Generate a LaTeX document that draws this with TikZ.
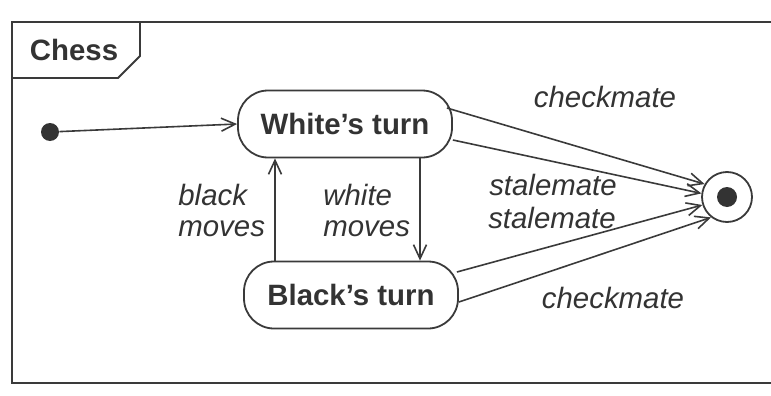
\documentclass[tikz,border=0pt]{standalone}
\usepackage{fontspec}
\setmainfont{Liberation Sans}
\setsansfont{Liberation Sans}
\usepackage{xcolor}
\usepackage{tikz}
\usetikzlibrary{
  arrows.meta,
  positioning,
  calc
}
\definecolor{chInk}{HTML}{333333}
\definecolor{chLine}{HTML}{3A3A3A}
\tikzset{
  chstate/.style={
    draw=chLine, line width=0.9pt, rounded corners=15pt, minimum width=107pt,
    minimum height=33.5pt, font=\fontsize{14.7}{16}\selectfont\bfseries,
    text=chInk, align=center, fill=white
  },
  initstate/.style={circle, fill=chInk, inner sep=0pt, minimum size=9pt},
  finalring/.style={circle, draw=chLine, line width=0.9pt, inner sep=0pt, minimum size=25pt, fill=white},
  finaldot/.style={circle, fill=chInk, inner sep=0pt, minimum size=10pt},
  trans/.style={-{Straight Barb[length=7pt,width=6.5pt]}, line width=0.8pt, chLine},
  translabel/.style={font=\fontsize{14.7}{15.5}\selectfont\itshape, text=chInk, align=left, inner sep=1pt},
  frameline/.style={draw=chLine, line width=0.9pt},
  tabname/.style={font=\fontsize{14.7}{16}\selectfont\bfseries, text=chInk}
}

\begin{document}
\begin{tikzpicture}[x=0.5pt, y=-0.5pt]
  \useasboundingbox (0,0) rectangle (771,396);
  % frame and name tab
  \draw[frameline] (790,22) -- (12,22) -- (12,383) -- (790,383);
  \draw[frameline] (12,78) -- (118,78) -- (140,56) -- (140,22);
  \node[tabname] (tab) at (74,50) {Chess};
  % states
  \node[initstate] (init) at (50,132) {};
  \node[chstate] (white) at (345,124) {White’s turn};
  \node[chstate] (black) at (351,295) {Black’s turn};
  \node[finalring] (final) at (727,197) {};
  \node[finaldot] at (final) {};
  % transitions
  \draw[trans] (init) -- (white.west);
  \draw[trans] ([xshift=-38pt]black.north) -- ([xshift=-38pt]black.north |- white.south);
  \draw[trans] ([xshift=37.5pt]white.south) -- ([xshift=37.5pt]white.south |- black.north);
  \draw[trans] ([xshift=-3pt,yshift=8pt]white.east) -- (final.150);
  \draw[trans] ([yshift=-8pt]white.east) -- (final.172);
  \draw[trans] ([xshift=-1pt,yshift=11.5pt]black.east) -- (final.198);
  \draw[trans] ([yshift=-3.5pt]black.east) -- (final.232);
  % labels
  \node[translabel, anchor=west] (bm) at (176,210) {black\\moves};
  \node[translabel, anchor=west] (wm) at (321,210) {white\\moves};
  \node[translabel] (cm1) at (605,97) {checkmate};
  \node[translabel] (sm1) at (553,185) {stalemate};
  \node[translabel] (sm2) at (552,218) {stalemate};
  \node[translabel] (cm2) at (613,298) {checkmate};
\end{tikzpicture}
\end{document}
